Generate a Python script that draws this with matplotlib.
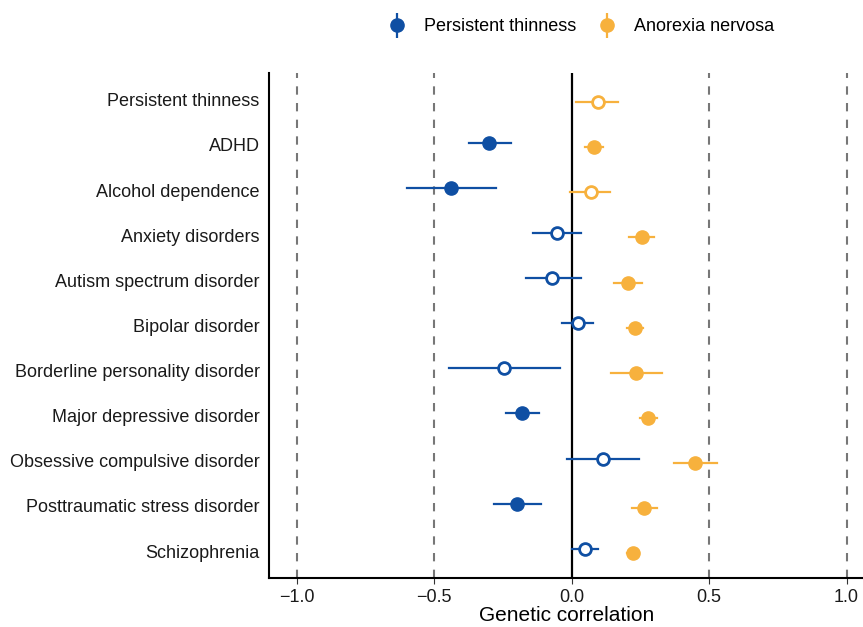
import numpy as np
import matplotlib.pyplot as plt
from matplotlib.lines import Line2D
from matplotlib.legend_handler import HandlerTuple

plt.rcParams['font.family'] = ['Liberation Sans', 'DejaVu Sans']

traits = ["Persistent thinness", "ADHD", "Alcohol dependence", "Anxiety disorders",
          "Autism spectrum disorder", "Bipolar disorder", "Borderline personality disorder",
          "Major depressive disorder", "Obsessive compulsive disorder",
          "Posttraumatic stress disorder", "Schizophrenia"]

# persistent thinness
pt_rg = [np.nan, -0.30, -0.44, -0.055, -0.07, 0.022, -0.245, -0.18, 0.115, -0.197, 0.048]
pt_lo = [np.nan, -0.375, -0.60, -0.14, -0.167, -0.036, -0.447, -0.24, -0.018, -0.284, 0.0]
pt_hi = [np.nan, -0.22, -0.275, 0.033, 0.033, 0.077, -0.043, -0.12, 0.244, -0.113, 0.095]
pt_sig = [False, True, True, False, False, False, False, True, False, True, False]

# anorexia nervosa
an_rg = [0.095, 0.083, 0.07, 0.255, 0.205, 0.23, 0.235, 0.277, 0.45, 0.262, 0.223]
an_lo = [0.015, 0.05, -0.005, 0.207, 0.153, 0.20, 0.145, 0.247, 0.374, 0.218, 0.20]
an_hi = [0.17, 0.113, 0.14, 0.30, 0.255, 0.26, 0.327, 0.31, 0.53, 0.31, 0.245]
an_sig = [False, True, False, True, True, True, True, True, True, True, True]

blue = '#0f4fa3'
orange = '#f7b13d'

fig = plt.figure(figsize=(8.63, 6.27), dpi=100)
ax = fig.add_axes([0.312, 0.078, 0.688, 0.806])

for v in [-1, -0.5, 0.5, 1]:
    ax.axvline(v, color='#777777', lw=1.5, ls=(0, (4, 4)), zorder=0)
ax.axvline(0, color='black', lw=1.6, zorder=1)

y = np.arange(len(traits))

def draw(rg, lo, hi, sig, col, off):
    for i in range(len(rg)):
        if np.isnan(rg[i]):
            continue
        yy = y[i] + off
        ax.plot([lo[i], hi[i]], [yy, yy], color=col, lw=1.6, zorder=2)
        if sig[i]:
            ax.plot(rg[i], yy, 'o', color=col, ms=9.5, zorder=3)
        else:
            ax.plot(rg[i], yy, 'o', mfc='white', mec=col, mew=2, ms=8.5, zorder=3)

draw(pt_rg, pt_lo, pt_hi, pt_sig, blue, -0.05)
draw(an_rg, an_lo, an_hi, an_sig, orange, 0.05)

ax.set_xlim(-1.1, 1.06)
ax.set_ylim(10.6, -0.6)
ax.set_yticks(y)
ax.set_yticklabels(traits, fontsize=13, color='#1a1a1a')
ax.set_xticks([-1, -0.5, 0, 0.5, 1])
ax.set_xticklabels(['\u22121.0', '\u22120.5', '0.0', '0.5', '1.0'], fontsize=13, color='#1a1a1a')
ax.tick_params(axis='y', length=0, pad=7)
ax.tick_params(axis='x', length=4, color='#333333', pad=4)
ax.set_xlabel("Genetic correlation", fontsize=15, labelpad=0)
for s in ['top', 'right']:
    ax.spines[s].set_visible(False)
for s in ['left', 'bottom']:
    ax.spines[s].set_linewidth(1.5)

h1 = (Line2D([], [], color=blue, marker='|', ms=18, mew=1.6, ls='none'),
      Line2D([], [], color=blue, marker='o', ms=9.5, ls='none'))
h2 = (Line2D([], [], color=orange, marker='|', ms=18, mew=1.6, ls='none'),
      Line2D([], [], color=orange, marker='o', ms=9.5, ls='none'))
fig.legend([h1, h2], ["Persistent thinness", "Anorexia nervosa"],
           handler_map={tuple: HandlerTuple(ndivide=1, pad=0)},
           loc='center', bbox_to_anchor=(0.673, 0.957), ncol=2, frameon=False,
           fontsize=13, handlelength=1.0, columnspacing=1.2, handletextpad=1.0)

fig.savefig('out.png', dpi=100)
